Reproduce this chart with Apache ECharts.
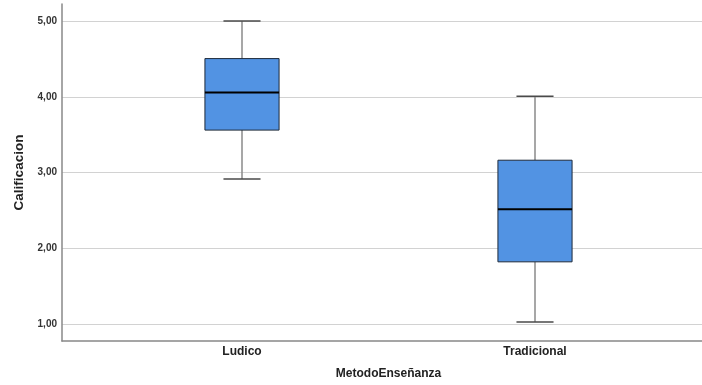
<!DOCTYPE html>
<html>
<head>
<meta charset="utf-8">
<script src="https://cdn.jsdelivr.net/npm/echarts@6/dist/echarts.min.js"></script>
<style>
  html, body { margin: 0; padding: 0; background: #fff; }
  #chart { width: 702px; height: 385px; }
</style>
</head>
<body>
<div id="chart"></div>
<script>
// Teaching method groups
const categories = ['Ludico', 'Tradicional'];
// Five-number summaries per group: [min, Q1, median, Q3, max]
const ludicoStats = [2.90, 3.55, 4.05, 4.50, 5.00];
const tradicionalStats = [1.00, 1.80, 2.50, 3.15, 4.00];
const yRange = [0.775, 5.225];

const FONT = '"Liberation Sans", Arial, sans-serif';
const boxData = [
  [0].concat(ludicoStats),
  [1].concat(tradicionalStats)
];

function fmt(v) {
  if (Math.abs(v - Math.round(v)) > 1e-6) return '';
  return v.toFixed(2).replace('.', ',');
}

function renderBox(params, api) {
  const idx = api.value(0);
  const lo = api.coord([idx, api.value(1)]);
  const q1 = api.coord([idx, api.value(2)]);
  const med = api.coord([idx, api.value(3)]);
  const q3 = api.coord([idx, api.value(4)]);
  const hi = api.coord([idx, api.value(5)]);
  const band = api.size([1, 0])[0];
  const bw = band * 0.253;
  const cw = bw / 2;
  const x = lo[0];
  const whisker = { stroke: '#8a8a8a', lineWidth: 1.5 };
  const cap = { stroke: '#4a4a4a', lineWidth: 1.5 };
  return {
    type: 'group',
    children: [
      { type: 'line', shape: { x1: x, y1: lo[1], x2: x, y2: q1[1] }, style: whisker },
      { type: 'line', shape: { x1: x, y1: q3[1], x2: x, y2: hi[1] }, style: whisker },
      { type: 'line', shape: { x1: x - cw / 2, y1: lo[1], x2: x + cw / 2, y2: lo[1] }, style: cap },
      { type: 'line', shape: { x1: x - cw / 2, y1: hi[1], x2: x + cw / 2, y2: hi[1] }, style: cap },
      { type: 'rect', shape: { x: x - bw / 2, y: q3[1], width: bw, height: q1[1] - q3[1] },
        style: { fill: '#5293E3', stroke: '#1e2a3a', lineWidth: 1 } },
      { type: 'line', shape: { x1: x - bw / 2, y1: med[1], x2: x + bw / 2, y2: med[1] },
        style: { stroke: '#000', lineWidth: 2 } }
    ]
  };
}

const chart = echarts.init(document.getElementById('chart'), null, { renderer: 'canvas' });
chart.setOption({
  backgroundColor: '#ffffff',
  animation: false,
  grid: [
    { left: 62, right: 0, top: 4, bottom: 44 },
    { left: 95.5, right: 20.5, top: 4, bottom: 44 }
  ],
  xAxis: [
    {
      type: 'category', gridIndex: 0, data: categories,
      axisLine: { show: true, lineStyle: { color: '#888', width: 1.5 } },
      axisTick: { show: false }, axisLabel: { show: false }, splitLine: { show: false }
    },
    {
      type: 'category', gridIndex: 1, data: categories,
      axisLine: { show: false }, axisTick: { show: false },
      axisLabel: { margin: 7, color: '#222', fontFamily: FONT, fontWeight: 'bold', fontSize: 12 },
      name: 'MetodoEnseñanza', nameLocation: 'middle', nameGap: 29,
      nameTextStyle: { color: '#222', fontFamily: FONT, fontWeight: 'bold', fontSize: 12 }
    }
  ],
  yAxis: [
    {
      type: 'value', gridIndex: 0, min: yRange[0], max: yRange[1], splitNumber: 5,
      axisLine: { show: true, lineStyle: { color: '#888', width: 1.5 } },
      axisTick: { show: false },
      axisLabel: { formatter: fmt, showMinLabel: false, showMaxLabel: false, margin: 5,
        color: '#333', fontFamily: FONT, fontWeight: 'bold', fontSize: 10 },
      splitLine: { show: true, showMinLine: false, showMaxLine: false,
        lineStyle: { color: '#d2d2d2', width: 1 } },
      name: 'Calificacion', nameLocation: 'middle', nameGap: 36, nameRotate: 90,
      nameTextStyle: { color: '#222', fontFamily: FONT, fontWeight: 'bold', fontSize: 13.5 }
    },
    {
      type: 'value', gridIndex: 1, min: yRange[0], max: yRange[1],
      show: false, splitLine: { show: false }
    }
  ],
  series: [
    {
      type: 'custom', xAxisIndex: 1, yAxisIndex: 1,
      renderItem: renderBox,
      encode: { x: 0, y: [1, 2, 3, 4, 5] },
      data: boxData,
      z: 5
    }
  ]
});
</script>
</body>
</html>
